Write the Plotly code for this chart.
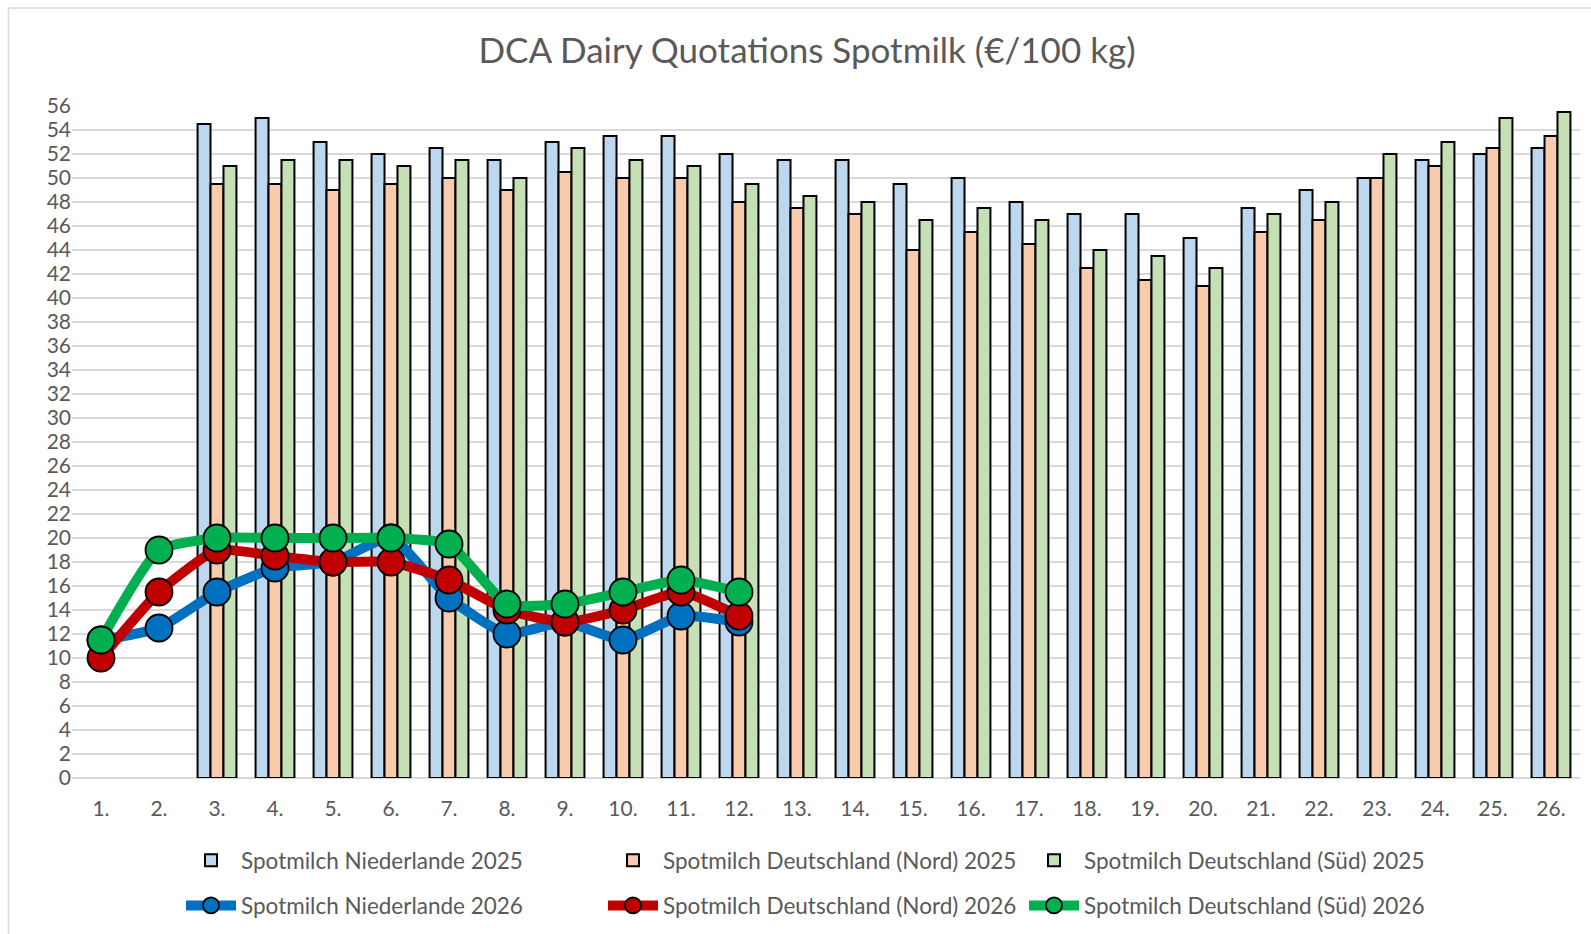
import plotly.graph_objects as go

weeks = [f"{i}." for i in range(1, 27)]

nl_2025 = [None, None, 54.5, 55, 53, 52, 52.5, 51.5, 53, 53.5, 53.5, 52, 51.5, 51.5, 49.5, 50, 48, 47, 47, 45, 47.5, 49, 50, 51.5, 52, 52.5]
dn_2025 = [None, None, 49.5, 49.5, 49, 49.5, 50, 49, 50.5, 50, 50, 48, 47.5, 47, 44, 45.5, 44.5, 42.5, 41.5, 41, 45.5, 46.5, 50, 51, 52.5, 53.5]
ds_2025 = [None, None, 51, 51.5, 51.5, 51, 51.5, 50, 52.5, 51.5, 51, 49.5, 48.5, 48, 46.5, 47.5, 46.5, 44, 43.5, 42.5, 47, 48, 52, 53, 55, 55.5]

weeks_2026 = weeks[:12]
nl_2026 = [11.5, 12.5, 15.5, 17.5, 18, 20, 15, 12, 13, 11.5, 13.5, 13]
dn_2026 = [10, 15.5, 19, 18.5, 18, 18, 16.5, 14, 13, 14, 15.5, 13.5]
ds_2026 = [11.5, 19, 20, 20, 20, 20, 19.5, 14.5, 14.5, 15.5, 16.5, 15.5]

FONT = "Lato"
GREY = "#595959"
W, H = 1591, 934
L, R, T, B = 72, 11, 106, 156
PW, PH = W - L - R, H - T - B


def px_x(px):
    return (px - L) / PW


def px_y(py):
    return (H - B - py) / PH


fig = go.Figure()
bar_specs = [
    ("Spotmilch Niederlande 2025", nl_2025, "#bdd7ee", "legend"),
    ("Spotmilch Deutschland (Nord) 2025", dn_2025, "#f8cbad", "legend2"),
    ("Spotmilch Deutschland (Süd) 2025", ds_2025, "#c5e0b4", "legend3"),
]
for name, vals, col, lg in bar_specs:
    fig.add_trace(go.Bar(x=weeks, y=vals, name=name, legend=lg, legendgroup=name,
                         marker=dict(color=col, line=dict(color="black", width=2))))

line_specs = [
    ("Spotmilch Niederlande 2026", nl_2026, "#0070c0", "legend"),
    ("Spotmilch Deutschland (Nord) 2026", dn_2026, "#c00000", "legend2"),
    ("Spotmilch Deutschland (Süd) 2026", ds_2026, "#00b050", "legend3"),
]
for name, vals, col, lg in line_specs:
    fig.add_trace(go.Scatter(x=weeks_2026, y=vals, name=name, mode="lines+markers", legend=lg, legendgroup=name,
                             line=dict(color=col, width=10, shape="spline", smoothing=0.5),
                             marker=dict(size=27, color=col, line=dict(color="black", width=1.8))))

legend_common = dict(orientation="v", yanchor="top", xanchor="left", traceorder="grouped", tracegroupgap=13,
                     itemwidth=50, font=dict(family=FONT, size=22.5, color=GREY), bgcolor="rgba(0,0,0,0)")
leg_top = px_y(839)
fig.update_layout(
    width=W, height=H,
    paper_bgcolor="white", plot_bgcolor="white",
    margin=dict(l=L, r=R, t=T, b=B, autoexpand=False),
    barmode="group", bargap=0.33, bargroupgap=0,
    title=dict(text="DCA Dairy Quotations Spotmilk (€/100 kg)", x=807 / W, xanchor="center", y=1 - 51 / H, yanchor="middle",
               font=dict(family=FONT, size=35, color=GREY)),
    font=dict(family=FONT, color=GREY),
    showlegend=True,
    legend=dict(x=px_x(181), y=leg_top, **legend_common),
    legend2=dict(x=px_x(603), y=leg_top, **legend_common),
    legend3=dict(x=px_x(1024), y=leg_top, **legend_common),
    xaxis=dict(type="category", range=[-0.5, 25.5], showgrid=False, showline=False, ticks="",
               tickfont=dict(family=FONT, size=21, color=GREY), ticklabelstandoff=16),
    yaxis=dict(range=[0, 56], dtick=2, showgrid=True, gridcolor="#d9d9d9", gridwidth=1.5, zeroline=True,
               zerolinecolor="#d9d9d9", zerolinewidth=1.5, showline=False, ticks="",
               tickfont=dict(family=FONT, size=21, color=GREY)),
)
fig.add_shape(type="rect", xref="paper", yref="paper",
              x0=px_x(8.5), x1=px_x(1620), y0=px_y(960), y1=px_y(8),
              line=dict(color="#d9d9d9", width=1.5), fillcolor="rgba(0,0,0,0)", layer="below")

fig.write_html("out.html", config={"displayModeBar": False},
               post_script="document.body.style.margin='0';")
